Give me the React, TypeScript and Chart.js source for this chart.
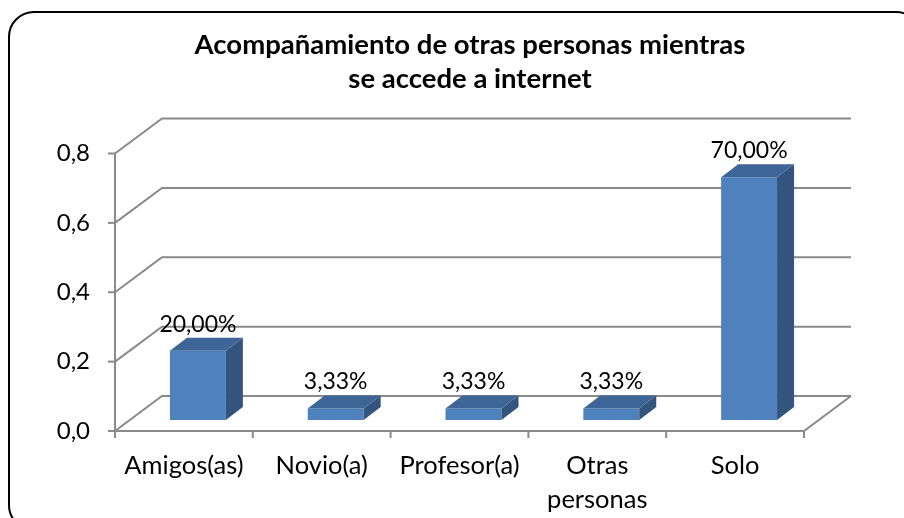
import React, { useEffect, useRef } from "react";
import { Chart, registerables } from "chart.js";

Chart.register(...registerables);

const titleLines = ["Acompañamiento de otras personas mientras", "se accede a internet"];
const categories: (string | string[])[] = ["Amigos(as)", "Novio(a)", "Profesor(a)", ["Otras", "personas"], "Solo"];
const values = [0.2, 0.0333, 0.0333, 0.0333, 0.7];
const yTickValues = [0, 0.2, 0.4, 0.6, 0.8];
const yTickLabels = ["0,0", "0,2", "0,4", "0,6", "0,8"];

const FONT = "Lato, 'Open Sans', sans-serif";
const GRID = "#8a8a8a";
// depth offsets relative to the bar plane
const FRONT = { dx: -14, dy: 11 };
const BACK = { dx: 33, dy: -24 };
const BAR_D = { dx: 17, dy: -13 };

const fmtPct = (v: number) => (v * 100).toFixed(2).replace(".", ",") + "%";

const deco = {
  id: "deco3d",
  beforeDatasetsDraw(chart: any) {
    const ctx = chart.ctx as CanvasRenderingContext2D;
    const x = chart.scales.x;
    const y = chart.scales.y;
    const n = categories.length;
    const left = x.getPixelForValue(0) - (x.getPixelForValue(1) - x.getPixelForValue(0)) / 2;
    const w = x.getPixelForValue(1) - x.getPixelForValue(0);
    const right = left + n * w;
    ctx.save();
    // outer rounded border
    ctx.strokeStyle = "#000";
    ctx.lineWidth = 2;
    ctx.beginPath();
    (ctx as any).roundRect(9, 12, 912, 518, 25);
    ctx.stroke();
    // title
    ctx.fillStyle = "#000";
    ctx.font = `bold 27.5px ${FONT}`;
    ctx.textAlign = "center";
    ctx.textBaseline = "middle";
    ctx.fillText(titleLines[0], 470, 45);
    ctx.fillText(titleLines[1], 470, 79);

    ctx.strokeStyle = GRID;
    ctx.lineWidth = 2;
    // back wall gridlines + side diagonals
    yTickValues.forEach((v) => {
      const yb = y.getPixelForValue(v);
      ctx.beginPath();
      ctx.moveTo(left + FRONT.dx, yb + FRONT.dy);
      ctx.lineTo(left + BACK.dx, yb + BACK.dy);
      ctx.lineTo(right + BACK.dx, yb + BACK.dy);
      ctx.stroke();
    });
    const y0 = y.getPixelForValue(0);
    const yTop = y.getPixelForValue(0.8);
    // floor front edge and right diagonal
    ctx.beginPath();
    ctx.moveTo(left + FRONT.dx, y0 + FRONT.dy);
    ctx.lineTo(right + FRONT.dx, y0 + FRONT.dy);
    ctx.lineTo(right + BACK.dx, y0 + BACK.dy);
    ctx.stroke();
    // front y axis
    ctx.beginPath();
    ctx.moveTo(left + FRONT.dx, yTop + FRONT.dy);
    ctx.lineTo(left + FRONT.dx, y0 + FRONT.dy);
    ctx.stroke();
    // y ticks
    yTickValues.forEach((v) => {
      const yy = y.getPixelForValue(v) + FRONT.dy;
      ctx.beginPath();
      ctx.moveTo(left + FRONT.dx - 7, yy);
      ctx.lineTo(left + FRONT.dx, yy);
      ctx.stroke();
    });
    // x ticks
    for (let i = 0; i <= n; i++) {
      const xx = left + i * w + FRONT.dx;
      ctx.beginPath();
      ctx.moveTo(xx, y0 + FRONT.dy);
      ctx.lineTo(xx, y0 + FRONT.dy + 7);
      ctx.stroke();
    }
    // y tick labels
    ctx.fillStyle = "#000";
    ctx.font = `24px ${FONT}`;
    ctx.textAlign = "right";
    ctx.textBaseline = "middle";
    yTickValues.forEach((v, i) => {
      ctx.fillText(yTickLabels[i], left + FRONT.dx - 25, y.getPixelForValue(v) + FRONT.dy);
    });
    // category labels
    ctx.textAlign = "center";
    ctx.textBaseline = "alphabetic";
    ctx.font = `25.5px ${FONT}`;
    categories.forEach((c, i) => {
      const cx = x.getPixelForValue(i) + FRONT.dx;
      const lines = Array.isArray(c) ? c : [c];
      lines.forEach((ln, j) => ctx.fillText(ln, cx, y0 + FRONT.dy + 43 + j * 34));
    });
    ctx.restore();
  },
  afterDatasetsDraw(chart: any) {
    const ctx = chart.ctx as CanvasRenderingContext2D;
    const meta = chart.getDatasetMeta(0);
    ctx.save();
    meta.data.forEach((bar: any, i: number) => {
      const x1 = bar.x - bar.width / 2;
      const x2 = bar.x + bar.width / 2;
      const yt = bar.y;
      const yb = bar.base;
      // side
      ctx.fillStyle = "#32547d";
      ctx.beginPath();
      ctx.moveTo(x2, yt);
      ctx.lineTo(x2 + BAR_D.dx, yt + BAR_D.dy);
      ctx.lineTo(x2 + BAR_D.dx, yb + BAR_D.dy);
      ctx.lineTo(x2, yb);
      ctx.closePath();
      ctx.fill();
      // top
      ctx.fillStyle = "#3d6595";
      ctx.beginPath();
      ctx.moveTo(x1, yt);
      ctx.lineTo(x1 + BAR_D.dx, yt + BAR_D.dy);
      ctx.lineTo(x2 + BAR_D.dx, yt + BAR_D.dy);
      ctx.lineTo(x2, yt);
      ctx.closePath();
      ctx.fill();
      // label
      ctx.fillStyle = "#000";
      ctx.font = `23px ${FONT}`;
      ctx.textAlign = "center";
      ctx.textBaseline = "alphabetic";
      ctx.fillText(fmtPct(values[i]), bar.x, yt + BAR_D.dy - 6);
    });
    ctx.restore();
  },
};

export default function App() {
  const ref = useRef<HTMLCanvasElement>(null);
  useEffect(() => {
    document.body.style.margin = "0";
    const chart = new Chart(ref.current!, {
      type: "bar",
      data: {
        labels: categories as any,
        datasets: [
          {
            data: values,
            backgroundColor: "#4f81bd",
            borderWidth: 0,
            barPercentage: 0.406,
            categoryPercentage: 1,
          },
        ],
      },
      options: {
        animation: false,
        responsive: false,
        devicePixelRatio: 1,
        layout: { padding: { left: 129, right: 86, top: 142.5, bottom: 98 } },
        plugins: { legend: { display: false }, tooltip: { enabled: false }, title: { display: false } },
        scales: {
          x: { type: "category", display: false, offset: true },
          y: { type: "linear", display: false, min: 0, max: 0.8, ticks: { stepSize: 0.2 } },
        },
      },
      plugins: [deco],
    });
    return () => chart.destroy();
  }, []);
  return <canvas ref={ref} width={904} height={518} style={{ display: "block", width: 904, height: 518 }} />;
}
